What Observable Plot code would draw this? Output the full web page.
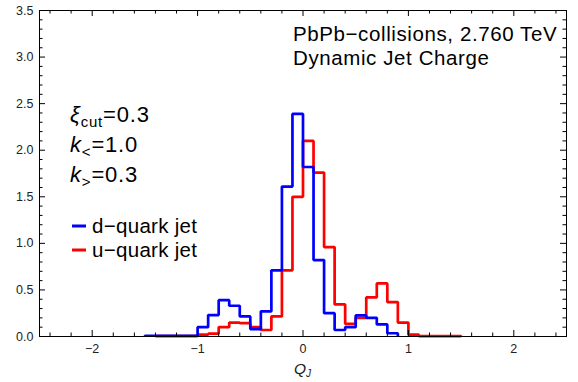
<!DOCTYPE html>
<html><head><meta charset="utf-8">
<script src="https://cdn.jsdelivr.net/npm/d3@7"></script>
<script src="https://cdn.jsdelivr.net/npm/@observablehq/plot@0.6"></script>
<style>
body{margin:0;background:#fff;}
#chart{width:578px;height:382px;position:relative;}
</style>
</head><body><div id="chart"></div>
<script>
// ---- data ----
const binStarts = [-1.5,-1.4,-1.3,-1.2,-1.1,-1.0,-0.9,-0.8,-0.7,-0.6,-0.5,-0.4,-0.3,-0.2,-0.1,0.0,0.1,0.2,0.3,0.4,0.5,0.6,0.7,0.8,0.9,1.0,1.1,1.2,1.3,1.4];
const binWidth = 0.1;
const dQuark = [0.008,0.008,0.008,0.008,0.008,0.10,0.23,0.39,0.33,0.215,0.08,0.27,0.71,1.61,2.39,1.82,0.82,0.25,0.07,0.10,0.226,0.20,0.13,0.035,null,null,null,null,null,null];
const uQuark = [null,0.003,0.003,0.003,0.003,0.02,0.03,0.10,0.15,0.143,0.10,0.07,0.215,0.71,1.50,2.10,1.76,0.96,0.344,0.136,0.20,0.42,0.57,0.37,0.15,0.02,0.005,0.005,0.005,0.005];
const seriesNames = ["d\u2212quark jet","u\u2212quark jet"];
const seriesColors = ["#0000ff","#ff0000"];
const xMajorTicks = [-2,-1,0,1,2];
const xTickLabels = ["\u22122","\u22121","0","1","2"];
const xMinorTicks = [-2.4,-2.2,-1.8,-1.6,-1.4,-1.2,-0.8,-0.6,-0.4,-0.2,0.2,0.4,0.6,0.8,1.2,1.4,1.6,1.8,2.2,2.4];
const yMajorTicks = [0,0.5,1.0,1.5,2.0,2.5,3.0,3.5];
const yTickLabels = ["0.0","0.5","1.0","1.5","2.0","2.5","3.0","3.5"];
const yMinorTicks = [0.1,0.2,0.3,0.4,0.6,0.7,0.8,0.9,1.1,1.2,1.3,1.4,1.6,1.7,1.8,1.9,2.1,2.2,2.3,2.4,2.6,2.7,2.8,2.9,3.1,3.2,3.3,3.4];
const titleLines = ["PbPb\u2212collisions, 2.760 TeV","Dynamic Jet Charge"];

// ---- layout ----
const W = 578, H = 382;
const mL = 39, mR = 12, mT = 10, mB = 46;
const iW = W - mL - mR, iH = H - mT - mB;
const FONT = "'Liberation Sans', Arial, Helvetica, sans-serif";

function steps(values) {
  let first = values.findIndex(v => v != null);
  let last = values.length - 1;
  while (values[last] == null) last--;
  const pts = [{x: binStarts[first], y: 0}];
  for (let i = first; i <= last; i++) pts.push({x: binStarts[i], y: values[i]});
  const end = binStarts[last] + binWidth;
  pts.push({x: end, y: values[last]});
  pts.push({x: end, y: 0});
  return pts;
}
const dSteps = steps(dQuark);
const uSteps = steps(uQuark);

const svg = Plot.plot({
  width: W, height: H,
  marginLeft: mL, marginRight: mR, marginTop: mT, marginBottom: mB,
  style: {fontFamily: FONT, fontSize: "12.5px", color: "#222", background: "#fff"},
  x: {domain: [-2.5, 2.5], axis: null},
  y: {domain: [0, 3.5], axis: null},
  marks: [
    Plot.line(uSteps, {x: "x", y: "y", curve: "step-after", stroke: seriesColors[1], strokeWidth: 2.7, strokeLinejoin: "miter", strokeLinecap: "butt"}),
    Plot.line(dSteps, {x: "x", y: "y", curve: "step-after", stroke: seriesColors[0], strokeWidth: 2.7, strokeLinejoin: "miter", strokeLinecap: "butt"}),
    Plot.tickX(xMajorTicks, {x: d => d, insetTop: iH - 6, stroke: "#000"}),
    Plot.tickX(xMajorTicks, {x: d => d, insetBottom: iH - 6, stroke: "#000"}),
    Plot.tickX(xMinorTicks, {x: d => d, insetTop: iH - 3.5, stroke: "#000"}),
    Plot.tickX(xMinorTicks, {x: d => d, insetBottom: iH - 3.5, stroke: "#000"}),
    Plot.tickY(yMajorTicks, {y: d => d, insetRight: iW - 6, stroke: "#000"}),
    Plot.tickY(yMajorTicks, {y: d => d, insetLeft: iW - 6, stroke: "#000"}),
    Plot.tickY(yMinorTicks, {y: d => d, insetRight: iW - 3.5, stroke: "#000"}),
    Plot.tickY(yMinorTicks, {y: d => d, insetLeft: iW - 3.5, stroke: "#000"}),
    Plot.axisX({ticks: xMajorTicks, tickSize: 0, tickPadding: 8, label: null, fill: "#222",
      tickFormat: d => xTickLabels[xMajorTicks.indexOf(d)]}),
    Plot.axisY({ticks: yMajorTicks, tickSize: 0, tickPadding: 6, label: null, fill: "#222",
      tickFormat: d => yTickLabels[yMajorTicks.indexOf(d)]}),
    Plot.frame({stroke: "#000", strokeWidth: 1})
  ]
});

const s = d3.select(svg);
const g = s.append("g").attr("font-family", FONT).attr("fill", "#000").attr("text-anchor", "start");

// title block
g.append("text").attr("x", 293).attr("y", 41).attr("font-size", 20.5).attr("letter-spacing", 0.6).text(titleLines[0]);
g.append("text").attr("x", 293).attr("y", 64.5).attr("font-size", 20.5).attr("letter-spacing", 0.6).text(titleLines[1]);

// parameter block
function param(y, main, sub, rest) {
  const t = g.append("text").attr("x", 70).attr("y", y).attr("font-size", 22).attr("letter-spacing", 0.8);
  t.append("tspan").attr("font-style", "italic").text(main);
  t.append("tspan").attr("font-size", 15).attr("dy", 5).text(sub);
  t.append("tspan").attr("dy", -5).text(rest);
}
param(121.5, "\u03BE", "cut", "=0.3");
param(151.5, "k", "<", "=1.0");
param(181.5, "k", ">", "=0.3");

// legend
[0, 1].forEach(i => {
  const y = 226 + i * 24;
  g.append("line").attr("x1", 72).attr("x2", 86).attr("y1", y).attr("y2", y)
    .attr("stroke", seriesColors[i]).attr("stroke-width", 3);
  g.append("text").attr("x", 92).attr("y", y + 7).attr("font-size", 20.5).attr("letter-spacing", 0.3).text(seriesNames[i]);
});

// x-axis label Q_J
const ql = g.append("text").attr("x", 294).attr("y", 374).attr("font-size", 15.5).attr("font-style", "italic").attr("fill", "#222");
ql.append("tspan").text("Q");
ql.append("tspan").attr("font-size", 10).attr("dy", 3).text("J");

document.getElementById("chart").appendChild(svg);
</script>
</body></html>
